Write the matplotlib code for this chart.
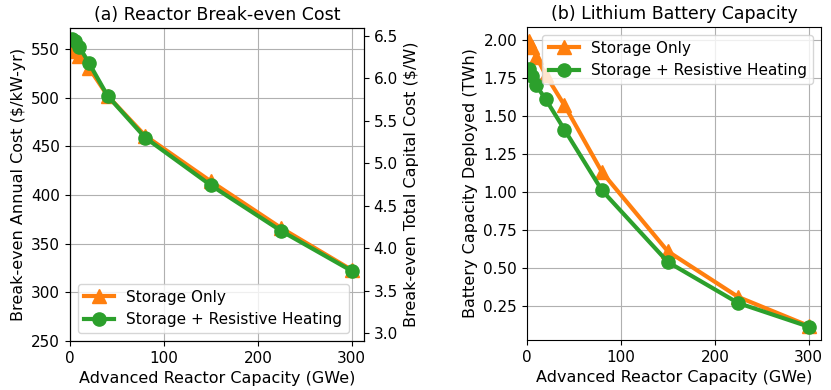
import matplotlib.pyplot as plt
import numpy as np

# advanced reactor capacity (GWe)
capacity = [2.5, 5, 10, 20, 40, 80, 150, 225, 300]

# (a) break-even annual cost ($/kW-yr)
cost_storage = [554, 548, 543, 531, 502, 461, 414, 366, 323]
cost_heating = [560, 558, 552, 536, 502, 459, 410, 363, 322]

# (b) battery capacity deployed (TWh)
batt_storage = [1.99, 1.95, 1.89, 1.77, 1.57, 1.13, 0.61, 0.31, 0.12]
batt_heating = [1.81, 1.76, 1.70, 1.61, 1.41, 1.01, 0.54, 0.27, 0.115]

labels = ["Storage Only", "Storage + Resistive Heating"]

plt.rcParams['font.size'] = 11
plt.rcParams['axes.labelsize'] = 11.5

fig = plt.figure(figsize=(8.31, 3.9), dpi=100)
ax1 = fig.add_axes([0.0842, 0.1256, 0.3538, 0.8026])
ax2 = fig.add_axes([0.634, 0.128, 0.354, 0.803])

style = dict(linewidth=3, markersize=9.5)

# (a) reactor cost
ax1.plot(capacity, cost_storage, '^-', color='tab:orange', label=labels[0], **style)
ax1.plot(capacity, cost_heating, 'o-', color='tab:green', label=labels[1], **style)
ax1.set_xlim(0, 313)
ax1.set_ylim(250, 571.6)
ax1.set_xticks([0, 100, 200, 300])
ax1.grid(True)
ax1.set_xlabel("Advanced Reactor Capacity (GWe)")
ax1.set_ylabel("Break-even Annual Cost ($/kW-yr)")
ax1.set_title("(a) Reactor Break-even Cost", fontsize=12.5)
ax1.legend(loc='lower left')

# right axis, total capital cost
ax1r = ax1.twinx()
ax1r.set_ylim(2.906, 6.594)
ax1r.set_ylabel("Break-even Total Capital Cost ($/W)")

# (b) battery capacity
ax2.plot(capacity, batt_storage, '^-', color='tab:orange', label=labels[0], **style)
ax2.plot(capacity, batt_heating, 'o-', color='tab:green', label=labels[1], **style)
ax2.set_xlim(0, 313)
ax2.set_ylim(0.027, 2.085)
ax2.set_xticks([0, 100, 200, 300])
ax2.set_yticks([0.25, 0.5, 0.75, 1.0, 1.25, 1.5, 1.75, 2.0])
ax2.grid(True)
ax2.set_xlabel("Advanced Reactor Capacity (GWe)")
ax2.set_ylabel("Battery Capacity Deployed (TWh)")
ax2.set_title("(b) Lithium Battery Capacity", fontsize=12.5)
ax2.legend(loc='upper right')

plt.savefig("out.png", dpi=100)
